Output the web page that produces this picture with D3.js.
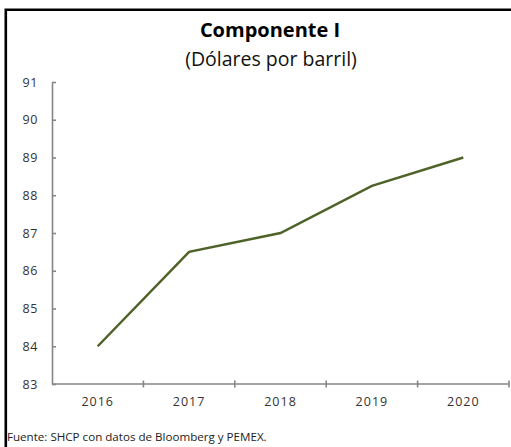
<!DOCTYPE html>
<html>
<head>
<meta charset="utf-8">
<script src="https://cdn.jsdelivr.net/npm/d3@7"></script>
<style>
  html, body { margin: 0; padding: 0; background: #fff; }
  svg { display: block; }
  text { font-family: "Open Sans", "Noto Sans", sans-serif; }
</style>
</head>
<body>
<svg id="chart" width="511" height="447"></svg>
<script>
const categories = ["2016", "2017", "2018", "2019", "2020"];
const values = [84.0, 86.5, 87.0, 88.25, 89.0];
const yTicks = [83, 84, 85, 86, 87, 88, 89, 90, 91];
const title = "Componente I";
const subtitle = "(Dólares por barril)";
const source = "Fuente: SHCP con datos de Bloomberg y PEMEX.";

(function () {
const svg = d3.select("#chart");
const W = 511, H = 447;
const mLeft = 52, mRight = 509, mTop = 82, mBottom = 384;

// frame (open at right and bottom)
svg.append("path")
  .attr("d", `M5.8,${H + 5} L5.8,9.8 L${W + 5},9.8`)
  .attr("fill", "none").attr("stroke", "#000").attr("stroke-width", 2.6);

svg.append("text").attr("x", 270).attr("y", 37).attr("text-anchor", "middle")
  .attr("font-size", 20).attr("font-weight", "bold").attr("fill", "#000").text(title);
svg.append("text").attr("x", 271).attr("y", 66).attr("text-anchor", "middle")
  .attr("font-size", 19.5).attr("fill", "#111").text(subtitle);

const x = d3.scaleBand().domain(categories).range([mLeft, mRight]).paddingInner(0).paddingOuter(0);
const y = d3.scaleLinear().domain([83, 91]).range([mBottom, mTop]);

// y axis
const yAxis = d3.axisLeft(y).tickValues(yTicks).tickSize(-4).tickPadding(14).tickSizeOuter(0).tickFormat(d3.format("d"));
const gy = svg.append("g").attr("transform", `translate(${mLeft},0)`).call(yAxis);
gy.select(".domain").attr("stroke", "#868686").attr("stroke-width", 1.6);
gy.selectAll(".tick line").attr("stroke", "#868686").attr("stroke-width", 1.6);
gy.selectAll(".tick text").attr("font-size", 12.5).attr("fill", "#333")
  .attr("letter-spacing", 0.6).attr("font-family", "'Open Sans', sans-serif");

// x axis
const gx = svg.append("g").attr("transform", `translate(0,${mBottom})`);
gx.append("line").attr("x1", mLeft).attr("x2", mRight).attr("y1", 0).attr("y2", 0)
  .attr("stroke", "#868686").attr("stroke-width", 1.6);
const bounds = categories.map(c => x(c) + x.bandwidth());
gx.selectAll("line.tk").data(bounds).join("line").attr("class", "tk")
  .attr("x1", d => d).attr("x2", d => d).attr("y1", -3.5).attr("y2", 3.5)
  .attr("stroke", "#868686").attr("stroke-width", 1.6);
gx.selectAll("text").data(categories).join("text")
  .attr("x", d => x(d) + x.bandwidth() / 2).attr("y", 21.5)
  .attr("text-anchor", "middle").attr("font-size", 12.5).attr("letter-spacing", 1)
  .attr("fill", "#333").text(d => d);

// line
const line = d3.line().x((d, i) => x(categories[i]) + x.bandwidth() / 2).y(d => y(d));
svg.append("path").datum(values).attr("d", line)
  .attr("fill", "none").attr("stroke", "#4f6228").attr("stroke-width", 2.5);

svg.append("text").attr("x", 7).attr("y", 441).attr("font-size", 11.6).attr("fill", "#222").text(source);
})();
</script>
</body>
</html>
